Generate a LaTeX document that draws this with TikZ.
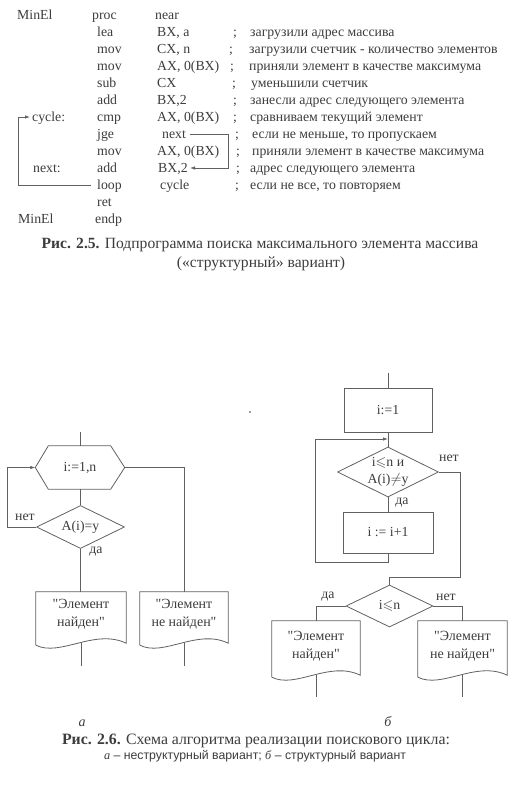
\documentclass[tikz,border=0pt]{standalone}
\usepackage{amssymb}
\usepackage{fontspec}
\setmainfont{Liberation Serif}
\newfontfamily\qfont{Liberation Serif}
\newfontfamily\capsans{Liberation Sans}
\usetikzlibrary{arrows.meta,calc,shapes.geometric}
\definecolor{ink}{gray}{0.24}
\definecolor{wire}{gray}{0.38}
\newcommand\docoutline[1]{%
  \draw[wireline] (#1.south west) -- (#1.north west) -- (#1.north east) --
    ($(#1.south east)+(0,-2)$)
    .. controls ($(#1.south west)!0.65!(#1.south east)+(0,-17)$)
    and ($(#1.south west)!0.27!(#1.south east)+(0,12)$) .. (#1.south west);}
\begin{document}
\begin{tikzpicture}[x=1pt,y=-1pt,
  font=\fontsize{13.8}{17}\selectfont, text=ink,
  wireline/.style={draw=wire, line width=0.8pt},
  code/.style={anchor=base west, inner sep=0pt},
  lbl/.style={inner sep=0pt, align=center},
  doclbl/.style={inner sep=0pt, align=center, font=\qfont\fontsize{14}{18}\selectfont},
  dia/.style={diamond, wireline, inner sep=0pt},
  procbox/.style={rectangle, wireline, inner sep=0pt},
  docbox/.style={rectangle, draw=none, inner sep=0pt},
  hexbox/.style={rectangle, draw=none, inner sep=0pt},
  tip/.style={-{Latex[length=5pt,width=3.5pt]}}]
\useasboundingbox[fill=white] (0,0) rectangle (520,786);

% ---------------- code listing (baselines) ----------------
\node[code] (r0a) at (17,19.5) {MinEl};
\node[code] (r0b) at (92,19.5) {proc};
\node[code] (r0c) at (155,19.5) {near};

\node[code] (r1b) at (97,36.5) {lea};
\node[code] (r1c) at (157,36.5) {BX, a};
\node[code] (r1s) at (233,36.5) {;};
\node[code] (r1d) at (250,36.5) {загрузили адрес массива};

\node[code] (r2b) at (97,53.5) {mov};
\node[code] (r2c) at (157,53.5) {CX, n};
\node[code] (r2s) at (229,53.5) {;};
\node[code] (r2d) at (249,53.5) {загрузили счетчик - количество элементов};

\node[code] (r3b) at (97,70.5) {mov};
\node[code] (r3c) at (157,70.5) {AX, 0(BX)};
\node[code] (r3s) at (230,70.5) {;};
\node[code] (r3d) at (249,70.5) {приняли элемент в качестве максимума};

\node[code] (r4b) at (97,87.5) {sub};
\node[code] (r4c) at (157,87.5) {CX};
\node[code] (r4s) at (232,87.5) {;};
\node[code] (r4d) at (251,87.5) {уменьшили счетчик};

\node[code] (r5b) at (97,104.5) {add};
\node[code] (r5c) at (157,104.5) {BX,2};
\node[code] (r5s) at (233,104.5) {;};
\node[code] (r5d) at (250,104.5) {занесли адрес следующего элемента};

\node[code] (cyc) at (32,121.5) {cycle:};
\node[code] (r6b) at (97,121.5) {cmp};
\node[code] (r6c) at (157,121.5) {AX, 0(BX)};
\node[code] (r6s) at (233,121.5) {;};
\node[code] (r6d) at (250,121.5) {сравниваем текущий элемент};

\node[code] (r7b) at (97,138.5) {jge};
\node[code] (nx) at (162,138.5) {next};
\node[code] (r7s) at (235,138.5) {;};
\node[code] (r7d) at (252,138.5) {если не меньше, то пропускаем};

\node[code] (r8b) at (97,155.5) {mov};
\node[code] (r8c) at (157,155.5) {AX, 0(BX)};
\node[code] (r8s) at (236,155.5) {;};
\node[code] (r8d) at (252,155.5) {приняли элемент в качестве максимума};

\node[code] (nxl) at (33,172.5) {next:};
\node[code] (r9b) at (97,172.5) {add};
\node[code] (bx2) at (158,172.5) {BX,2};
\node[code] (r9s) at (236,172.5) {;};
\node[code] (r9d) at (250,172.5) {адрес следующего элемента};

\node[code] (lp) at (97,189.5) {loop};
\node[code] (r10c) at (160,189.5) {cycle};
\node[code] (r10s) at (235,189.5) {;};
\node[code] (r10d) at (250,189.5) {если не все, то повторяем};

\node[code] (r11b) at (97,206.5) {ret};
\node[code] (r12a) at (18,223.5) {MinEl};
\node[code] (r12b) at (95,223.5) {endp};

\coordinate (j0) at (190,134);
\coordinate (j1) at (228,134);
\coordinate (j2) at (228,168);
\coordinate (j3) at (190,168);
\draw[wireline, tip] (j0) -- (j1) -- (j2) -- (j3);
\coordinate (l0) at (91,185);
\coordinate (l1) at (18,185);
\coordinate (l2) at (18,117);
\coordinate (l3) at (30,117);
\draw[wireline, tip] (l0) -- (l1) -- (l2) -- (l3);

% caption 2.5
\node[lbl, font=\fontsize{15.6}{18}\selectfont] (cap25a) at (260,245) {\textbf{Рис. 2.5.} Подпрограмма поиска максимального элемента массива};
\node[lbl, font=\fontsize{15.6}{18}\selectfont] (cap25b) at (261,264) {(«структурный» вариант)};

% stray dot
\fill[ink] (250,412) circle (0.9pt);

% ---------------- flowchart a ----------------
\coordinate (a0) at (80.5,432);
\node[hexbox, minimum width=89pt, minimum height=43pt] (hex) at (80,467.5) {};
\draw[wireline] (hex.west) -- ($(hex.north west)+(13,0)$) -- ($(hex.north east)+(-14,0)$) -- (hex.east)
  -- ($(hex.south east)+(-14,0)$) -- ($(hex.south west)+(13,0)$) -- cycle;
\node[lbl] at (hex.center) {i:=1,n};
\draw[wireline] (a0) -- (a0 |- hex.north);

\node[dia, minimum width=88pt, minimum height=43pt] (da) at (80.5,527) {};
\node[lbl] at (da.center) {A(i)=y};
\draw[wireline] (da.north |- hex.south) -- (da.north);

\coordinate (la1) at (7,527);
\coordinate (la2) at (7,467.5);
\draw[wireline, tip] (da.west) -- (la1) -- (la2) -- (hex.west);
\node[lbl] (neta) at (25,517) {нет};
\node[lbl] (daa) at (96,552) {да};

\node[docbox, minimum width=90pt, minimum height=53pt] (docA1) at (81,618.5) {};
\docoutline{docA1}
\node[doclbl] at (81,614) {"Элемент\\найден"};
\node[docbox, minimum width=88pt, minimum height=53pt] (docA2) at (184,618.5) {};
\docoutline{docA2}
\node[doclbl] at (184,614) {"Элемент\\не найден"};

\draw[wireline] (da.south) -- (da.south |- docA1.north);
\coordinate (ra1) at (184,467.5);
\draw[wireline] (hex.east) -- (ra1) -- (docA2.north);

\coordinate (ea1) at (81,666);
\coordinate (ea2) at (184,666);
\draw[wireline] ($(docA1.south)+(0,-2)$) -- (ea1);
\draw[wireline] ($(docA2.south)+(0,-2)$) -- (ea2);

% ---------------- flowchart b ----------------
\coordinate (b0) at (388,373);
\node[procbox, minimum width=88pt, minimum height=44pt] (b1) at (388,410) {i:=1};
\draw[wireline] (b0) -- (b1.north);

\node[dia, minimum width=101pt, minimum height=50pt] (db1) at (388,472) {};
\node[lbl, font=\fontsize{13.8}{17}\selectfont] at (388,472) {i$\leqslant$n и\\A(i)$\neq$y};
\draw[wireline] (b1.south) -- (db1.north);

\node[procbox, minimum width=90pt, minimum height=41pt] (b2) at (388,532.5) {i := i+1};
\draw[wireline] (db1.south) -- (b2.north);
\node[lbl] (dab1) at (402,503) {да};
\node[lbl] (netb1) at (449,458) {нет};

\coordinate (m1) at (388,439);
\coordinate (lb1) at (388,562);
\coordinate (lb2) at (315,562);
\coordinate (lb3) at (315,439);
\draw[wireline, tip] (b2.south) -- (lb1) -- (lb2) -- (lb3) -- (m1);

\node[dia, minimum width=87pt, minimum height=42pt] (db2) at (389.5,606) {};
\node[lbl] at (db2.center) {i$\leqslant$n};
\coordinate (rb1) at (460,472);
\coordinate (rb2) at (460,577);
\coordinate (rb3) at (389.5,577);
\draw[wireline] (db1.east) -- (rb1) -- (rb2) -- (rb3) -- (db2.north);
\node[lbl] (dab2) at (328,597) {да};
\node[lbl] (netb2) at (446,597) {нет};

\node[docbox, minimum width=88pt, minimum height=56pt] (docB1) at (316,649) {};
\docoutline{docB1}
\node[doclbl] at (316,646) {"Элемент\\найден"};
\node[docbox, minimum width=89pt, minimum height=56pt] (docB2) at (462.5,649) {};
\docoutline{docB2}
\node[doclbl] at (462.5,646) {"Элемент\\не найден"};

\coordinate (tb1) at (316,606);
\coordinate (tb2) at (462.5,606);
\draw[wireline] (db2.west) -- (tb1) -- (docB1.north);
\draw[wireline] (db2.east) -- (tb2) -- (docB2.north);
\coordinate (eb1) at (316,697);
\coordinate (eb2) at (462.5,697);
\draw[wireline] ($(docB1.south)+(0,-2)$) -- (eb1);
\draw[wireline] ($(docB2.south)+(0,-2)$) -- (eb2);

% ---------------- captions ----------------
\node[lbl, font=\fontsize{14}{16}\itshape] (la) at (82,723) {а};
\node[lbl, font=\fontsize{14}{16}\itshape] (lb) at (388,722) {б};
\node[lbl, font=\fontsize{15.8}{18}\selectfont] (cap26a) at (256,741) {\textbf{Рис. 2.6.} Схема алгоритма реализации поискового цикла:};
\node[lbl, font=\capsans\fontsize{12.3}{14}\selectfont] (cap26b) at (255,756) {{\rmfamily\itshape а} – неструктурный вариант; {\rmfamily\itshape б} – структурный вариант};
\end{tikzpicture}
\end{document}
